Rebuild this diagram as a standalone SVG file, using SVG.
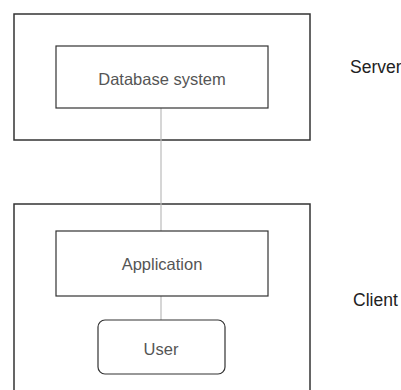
<svg xmlns="http://www.w3.org/2000/svg" width="401" height="390" viewBox="0 0 401 390">
<style>
.outer{fill:none;stroke:#333;stroke-width:1.5}
.box{fill:#fff;stroke:#333;stroke-width:1.2}
.lbl{font-family:"Liberation Sans",Arial,sans-serif;font-size:16.5px;fill:#555;text-anchor:middle}
.side{font-family:"Liberation Sans",Arial,sans-serif;font-size:17.5px;fill:#222}
.conn{stroke:#bbb;stroke-width:1.2;fill:none}
</style>
<rect width="401" height="390" fill="#fff"/>
<g id="server">
<rect class="outer" x="14" y="14" width="296" height="126"/>
<text class="side" x="350" y="73">Server</text>
</g>
<g id="client">
<rect class="outer" x="14" y="204" width="296" height="200"/>
<text class="side" x="353" y="306">Client</text>
</g>
<g id="connectors">
<line class="conn" x1="161" y1="108" x2="161" y2="231"/>
<line class="conn" x1="161" y1="296" x2="161" y2="320"/>
</g>
<g id="database">
<rect class="box" x="56" y="46" width="212" height="62"/>
<text class="lbl" x="162" y="85">Database system</text>
</g>
<g id="application">
<rect class="box" x="56" y="231" width="212" height="65"/>
<text class="lbl" x="162" y="270">Application</text>
</g>
<g id="user">
<rect class="box" x="98" y="320" width="127" height="54" rx="7"/>
<text class="lbl" x="161" y="355">User</text>
</g>
</svg>
